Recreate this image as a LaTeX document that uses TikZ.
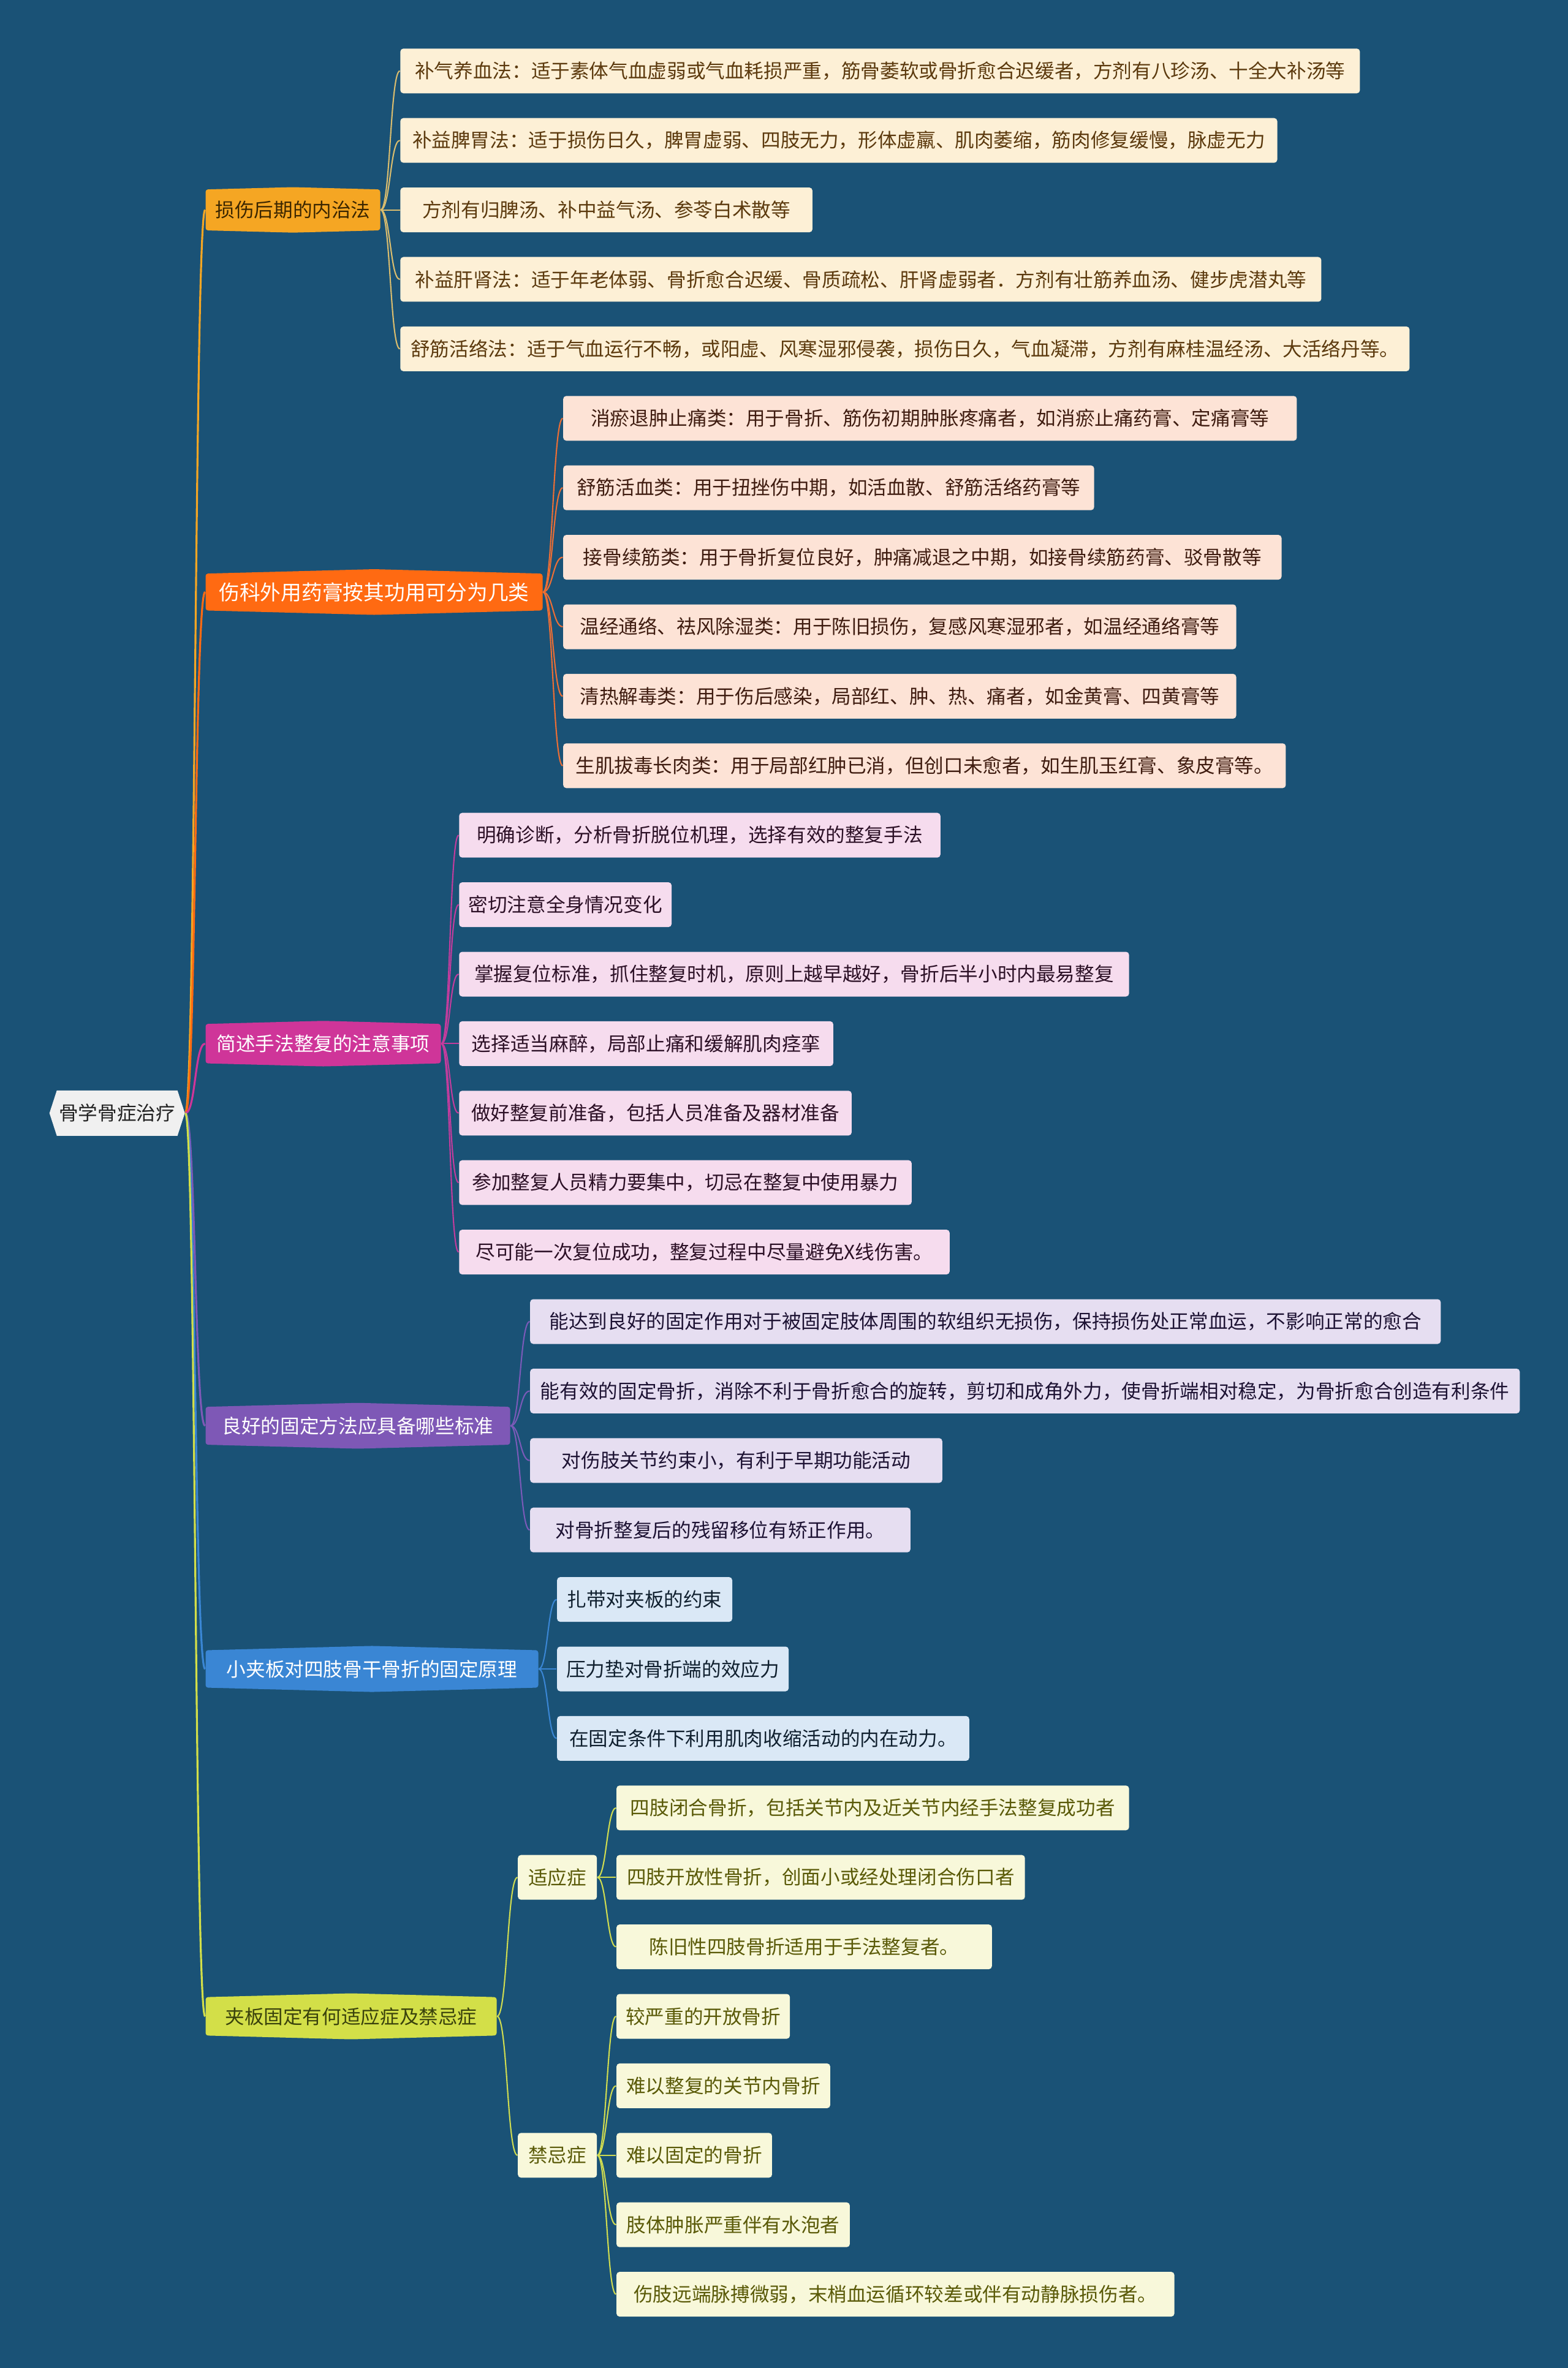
\documentclass[tikz,border=0pt]{standalone}
\usepackage{fontspec}
\newfontfamily\cjk{Noto Sans CJK SC}
\usetikzlibrary{shapes.symbols}

\definecolor{bg}{HTML}{1A5276}
\definecolor{rootfill}{HTML}{F0F0F0}
\definecolor{roottext}{HTML}{222222}
\definecolor{cA}{HTML}{F5A623}\definecolor{tA}{HTML}{3B2600}
\definecolor{lA}{HTML}{FDF0D6}\definecolor{ltA}{HTML}{5C3A0E}\definecolor{kA}{HTML}{D9BC6E}
\definecolor{cB}{HTML}{FF6A12}
\definecolor{lB}{HTML}{FDE3D6}\definecolor{ltB}{HTML}{3F1C10}\definecolor{kB}{HTML}{EB6E35}
\definecolor{cC}{HTML}{CF3599}
\definecolor{lC}{HTML}{F6DCEE}\definecolor{ltC}{HTML}{2C1026}\definecolor{kC}{HTML}{C23C9D}
\definecolor{cD}{HTML}{7E58B6}
\definecolor{lD}{HTML}{E6DEF1}\definecolor{ltD}{HTML}{1D1233}\definecolor{kD}{HTML}{7A5AB8}
\definecolor{cE}{HTML}{3A86D4}
\definecolor{lE}{HTML}{DAE8F6}\definecolor{ltE}{HTML}{10202F}\definecolor{kE}{HTML}{3A86D4}
\definecolor{cF}{HTML}{D3DF48}\definecolor{tF}{HTML}{3A420C}
\definecolor{lF}{HTML}{F8F8DA}\definecolor{ltF}{HTML}{5A5A08}\definecolor{kF}{HTML}{CFDB50}

\tikzset{
  every node/.style={font=\cjk\fontsize{9pt}{11pt}\selectfont},
  leaf/.style={anchor=west, rounded corners=0.05cm, minimum height=0.73cm, inner xsep=0.15cm},
  topic/.style={anchor=west, signal, signal to=north and south, signal pointer angle=177,
    rounded corners=0.04cm, minimum height=0.74cm},
  trunk/.style={line width=0.9pt},
  twig/.style={line width=0.6pt},
}

\begin{document}
\begin{tikzpicture}[x=0.01cm, y=-1.134cm]
% Background
\useasboundingbox (0,-1.0212) rectangle (2560,33.062);
\fill[bg] (0,-1.0212) rectangle (2560,33.062);

% Root
\node[signal, signal to=west and east, signal pointer angle=144, fill=rootfill, text=roottext,
  inner xsep=1pt, minimum width=2.21cm, minimum height=0.74cm, anchor=west] (root) at (80,15) {骨学骨症治疗};

% Topics
\node[topic, fill=cA, text=tA, minimum width=2.85cm] (b1) at (335,2) {损伤后期的内治法};
\node[topic, fill=cB, text=white, minimum width=5.5cm, font=\cjk\fontsize{9.6pt}{11pt}\selectfont] (b2) at (335,7.5) {伤科外用药膏按其功用可分为几类};
\node[topic, fill=cC, text=white, minimum width=3.84cm] (b3) at (335,14) {简述手法整复的注意事项};
\node[topic, fill=cD, text=white, minimum width=4.97cm] (b4) at (335,19.5) {良好的固定方法应具备哪些标准};
\node[topic, fill=cE, text=white, minimum width=5.43cm] (b5) at (335,23) {小夹板对四肢骨干骨折的固定原理};
\node[topic, fill=cF, text=tF, minimum width=4.75cm] (b6) at (335,28) {夹板固定有何适应症及禁忌症};

% Trunk links
\foreach \b/\c in {b1/cA, b2/cB, b3/cC, b4/cD, b5/cE, b6/cF}
  \draw[trunk, \c] (root.east) .. controls +(17,0) and +(-17,0) .. (\b.west);

% Topic 1
\foreach \r/\w/\t in {0/1567/{补气养血法：适于素体气血虚弱或气血耗损严重，筋骨萎软或骨折愈合迟缓者，方剂有八珍汤、十全大补汤等},
    1/1432/{补益脾胃法：适于损伤日久，脾胃虚弱、四肢无力，形体虚羸、肌肉萎缩，筋肉修复缓慢，脉虚无力},
    2/673/{方剂有归脾汤、补中益气汤、参苓白术散等},
    3/1504/{补益肝肾法：适于年老体弱、骨折愈合迟缓、骨质疏松、肝肾虚弱者．方剂有壮筋养血汤、健步虎潜丸等},
    4/1648/{舒筋活络法：适于气血运行不畅，或阳虚、风寒湿邪侵袭，损伤日久，气血凝滞，方剂有麻桂温经汤、大活络丹等。}}{
  \node[leaf, fill=lA, text=ltA, minimum width=\w*0.01cm] (l\r) at (653,\r) {\t};
  \draw[twig, kA] (b1.east) .. controls +(16,0) and +(-16,0) .. (l\r.west);
}

% Topic 2
\foreach \r/\w/\t in {5/1198/{消瘀退肿止痛类：用于骨折、筋伤初期肿胀疼痛者，如消瘀止痛药膏、定痛膏等},
    6/867/{舒筋活血类：用于扭挫伤中期，如活血散、舒筋活络药膏等},
    7/1173/{接骨续筋类：用于骨折复位良好，肿痛减退之中期，如接骨续筋药膏、驳骨散等},
    8/1099/{温经通络、祛风除湿类：用于陈旧损伤，复感风寒湿邪者，如温经通络膏等},
    9/1099/{清热解毒类：用于伤后感染，局部红、肿、热、痛者，如金黄膏、四黄膏等},
    10/1180/{生肌拔毒长肉类：用于局部红肿已消，但创口未愈者，如生肌玉红膏、象皮膏等。}}{
  \node[leaf, fill=lB, text=ltB, minimum width=\w*0.01cm] (l\r) at (919,\r) {\t};
  \draw[twig, kB] (b2.east) .. controls +(16,0) and +(-16,0) .. (l\r.west);
}

% Topic 3
\foreach \r/\w/\t in {11/786/{明确诊断，分析骨折脱位机理，选择有效的整复手法},
    12/347/{密切注意全身情况变化},
    13/1094/{掌握复位标准，抓住整复时机，原则上越早越好，骨折后半小时内最易整复},
    14/611/{选择适当麻醉，局部止痛和缓解肌肉痉挛},
    15/641/{做好整复前准备，包括人员准备及器材准备},
    16/739/{参加整复人员精力要集中，切忌在整复中使用暴力},
    17/801/{尽可能一次复位成功，整复过程中尽量避免X线伤害。}}{
  \node[leaf, fill=lC, text=ltC, minimum width=\w*0.01cm] (l\r) at (749,\r) {\t};
  \draw[twig, kC] (b3.east) .. controls +(15,0) and +(-15,0) .. (l\r.west);
}

% Topic 4
\foreach \r/\w/\t in {18/1487/{能达到良好的固定作用对于被固定肢体周围的软组织无损伤，保持损伤处正常血运，不影响正常的愈合},
    19/1616/{能有效的固定骨折，消除不利于骨折愈合的旋转，剪切和成角外力，使骨折端相对稳定，为骨折愈合创造有利条件},
    20/673/{对伤肢关节约束小，有利于早期功能活动},
    21/621/{对骨折整复后的残留移位有矫正作用。}}{
  \node[leaf, fill=lD, text=ltD, minimum width=\w*0.01cm] (l\r) at (865,\r) {\t};
  \draw[twig, kD] (b4.east) .. controls +(16,0) and +(-16,0) .. (l\r.west);
}

% Topic 5
\foreach \r/\w/\t in {22/286/{扎带对夹板的约束},
    23/378/{压力垫对骨折端的效应力},
    24/673/{在固定条件下利用肌肉收缩活动的内在动力。}}{
  \node[leaf, fill=lE, text=ltE, minimum width=\w*0.01cm] (l\r) at (909,\r) {\t};
  \draw[twig, kE] (b5.east) .. controls +(15,0) and +(-15,0) .. (l\r.west);
}

% Topic 6
\node[leaf, fill=lF, text=ltF, minimum width=1.29cm] (s1) at (845,26) {适应症};
\node[leaf, fill=lF, text=ltF, minimum width=1.29cm] (s2) at (845,30) {禁忌症};
\foreach \s in {s1,s2}
  \draw[twig, kF] (b6.east) .. controls +(17,0) and +(-17,0) .. (\s.west);

\foreach \r/\w/\t in {25/837/{四肢闭合骨折，包括关节内及近关节内经手法整复成功者},
    26/667/{四肢开放性骨折，创面小或经处理闭合伤口者},
    27/613/{陈旧性四肢骨折适用于手法整复者。}}{
  \node[leaf, fill=lF, text=ltF, minimum width=\w*0.01cm] (l\r) at (1006,\r) {\t};
  \draw[twig, kF] (s1.east) .. controls +(15,0) and +(-15,0) .. (l\r.west);
}
\foreach \r/\w/\t in {28/282/{较严重的开放骨折},
    29/349/{难以整复的关节内骨折},
    30/254/{难以固定的骨折},
    31/381/{肢体肿胀严重伴有水泡者},
    32/911/{伤肢远端脉搏微弱，末梢血运循环较差或伴有动静脉损伤者。}}{
  \node[leaf, fill=lF, text=ltF, minimum width=\w*0.01cm] (l\r) at (1006,\r) {\t};
  \draw[twig, kF] (s2.east) .. controls +(15,0) and +(-15,0) .. (l\r.west);
}
\end{tikzpicture}
\end{document}
